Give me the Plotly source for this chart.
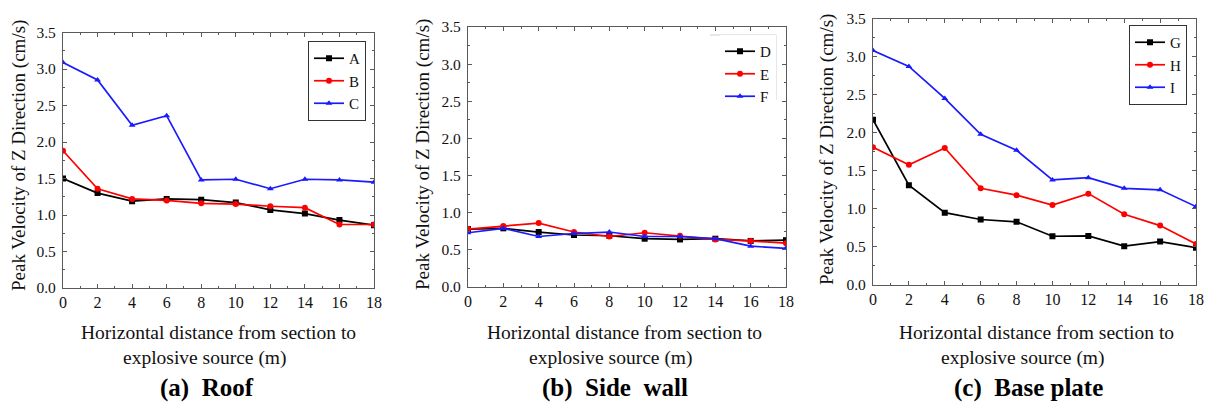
import plotly.graph_objects as go

# ---- data ----
x_dist = [0, 2, 4, 6, 8, 10, 12, 14, 16, 18]

roof_A = [1.50, 1.30, 1.19, 1.22, 1.21, 1.17, 1.07, 1.02, 0.93, 0.86]
roof_B = [1.88, 1.36, 1.22, 1.20, 1.16, 1.15, 1.12, 1.10, 0.87, 0.87]
roof_C = [3.09, 2.85, 2.23, 2.36, 1.48, 1.49, 1.36, 1.49, 1.48, 1.45]

wall_D = [0.78, 0.79, 0.74, 0.70, 0.69, 0.65, 0.64, 0.65, 0.62, 0.63]
wall_E = [0.78, 0.82, 0.86, 0.74, 0.68, 0.73, 0.69, 0.64, 0.62, 0.59]
wall_F = [0.73, 0.79, 0.68, 0.72, 0.74, 0.68, 0.68, 0.65, 0.55, 0.52]

base_G = [2.17, 1.31, 0.95, 0.86, 0.83, 0.64, 0.645, 0.51, 0.57, 0.49]
base_H = [1.81, 1.58, 1.80, 1.27, 1.18, 1.05, 1.20, 0.93, 0.78, 0.54]
base_I = [3.08, 2.87, 2.45, 1.98, 1.77, 1.38, 1.41, 1.27, 1.25, 1.03]

y_tick_vals = [0.0, 0.5, 1.0, 1.5, 2.0, 2.5, 3.0, 3.5]
y_tick_text = ["0.0", "0.5", "1.0", "1.5", "2.0", "2.5", "3.0", "3.5"]
x_tick_vals = [0, 2, 4, 6, 8, 10, 12, 14, 16, 18]

captions = ["(a)  Roof", "(b)  Side  wall", "(c)  Base plate"]
y_title = "Peak Velocity of Z Direction (cm/s)"
x_title_1 = "Horizontal distance from section to"
x_title_2 = "explosive source (m)"

W, H = 1213, 406
FONT = "Liberation Serif"
AX_COL = "#5a5a5a"

# plot area boxes in pixels (left, right, top, bottom)
boxes = [(63, 374, 32.5, 288), (468, 786, 27, 287), (873, 1196, 18.5, 285)]

def px(x):
    return x / W

def py(y):
    return 1 - y / H

series = [
    [("A", roof_A), ("B", roof_B), ("C", roof_C)],
    [("D", wall_D), ("E", wall_E), ("F", wall_F)],
    [("G", base_G), ("H", base_H), ("I", base_I)],
]
colors = ["#000000", "#ff0000", "#1a1aff"]
symbols = ["square", "circle", "triangle-up"]

fig = go.Figure()
for p, group in enumerate(series):
    sfx = "" if p == 0 else str(p + 1)
    for k, (name, vals) in enumerate(group):
        fig.add_trace(go.Scatter(
            x=x_dist, y=vals, name=name, mode="lines+markers",
            line=dict(color=colors[k], width=1.7),
            marker=dict(symbol=symbols[k], size=6, color=colors[k]),
            xaxis="x" + sfx, yaxis="y" + sfx,
            legend="legend" + sfx,
        ))

layout = dict(
    width=W, height=H,
    margin=dict(l=0, r=0, t=0, b=0, autoexpand=False),
    paper_bgcolor="white", plot_bgcolor="white",
    font=dict(family=FONT, color="#111111"),
    annotations=[], shapes=[],
)

# legend positions (right edge x px, top y px)
legend_pos = [(366, 41, True), (776, 35, False), (1187, 25, True)]

for p, (l, r, t, b) in enumerate(boxes):
    sfx = "" if p == 0 else str(p + 1)
    xa = dict(
        domain=[px(l), px(r)], range=[0, 18], anchor="y" + sfx,
        tickvals=x_tick_vals, ticks="inside", ticklen=4, tickcolor=AX_COL,
        showline=True, linecolor=AX_COL, linewidth=1.2, mirror="ticks",
        showgrid=False, zeroline=False,
        tickfont=dict(family=FONT, size=16, color="#111111"),
        ticklabelstandoff=0,
        minor=dict(dtick=1, ticks="inside", ticklen=2, tickcolor=AX_COL, showgrid=False),
    )
    ya = dict(
        domain=[py(b), py(t)], range=[0, 3.5], anchor="x" + sfx,
        tickvals=y_tick_vals, ticktext=y_tick_text, ticks="inside", ticklen=4,
        tickcolor=AX_COL,
        showline=True, linecolor=AX_COL, linewidth=1.2, mirror="ticks",
        showgrid=False, zeroline=False,
        tickfont=dict(family=FONT, size=15.5, color="#111111"),
        ticklabelstandoff=3,
        minor=dict(dtick=0.25, ticks="inside", ticklen=2, tickcolor=AX_COL, showgrid=False),
    )
    layout["xaxis" + sfx] = xa
    layout["yaxis" + sfx] = ya

    lx, ly, border = legend_pos[p]
    layout["legend" + sfx] = dict(
        x=px(lx), y=py(ly), xanchor="right", yanchor="top",
        xref="paper", yref="paper",
        bgcolor="rgba(255,255,255,1)",
        bordercolor="#333333" if border else "rgba(0,0,0,0)",
        borderwidth=1 if border else 0,
        font=dict(family=FONT, size=15, color="#111111"),
        tracegroupgap=0, itemwidth=30, entrywidth=54,
    )

# partial light border of the side-wall legend
layout["shapes"].append(dict(type="line", xref="paper", yref="paper",
                             x0=px(710), x1=px(776), y0=py(35), y1=py(35),
                             line=dict(color="#cfcfcf", width=1)))
layout["shapes"].append(dict(type="line", xref="paper", yref="paper",
                             x0=px(776), x1=px(776), y0=py(35), y1=py(100),
                             line=dict(color="#cfcfcf", width=1)))

# text annotations
ytitle_x = [19, 423, 827]
ytitle_y = [156, 155, 150]
line1_cx = [218, 624, 1036]
line2_cx = [205, 611, 1023]
cap_cx = [207, 615, 1028]
for p in range(3):
    layout["annotations"].append(dict(
        text=y_title, textangle=-90, xref="paper", yref="paper",
        x=px(ytitle_x[p]), y=py(ytitle_y[p]), xanchor="center", yanchor="middle",
        showarrow=False, font=dict(family=FONT, size=19, color="#111111")))
    layout["annotations"].append(dict(
        text=x_title_1, xref="paper", yref="paper",
        x=px(line1_cx[p]), y=py(332), xanchor="center", yanchor="middle",
        showarrow=False, font=dict(family=FONT, size=19.5, color="#111111")))
    layout["annotations"].append(dict(
        text=x_title_2, xref="paper", yref="paper",
        x=px(line2_cx[p]), y=py(358), xanchor="center", yanchor="middle",
        showarrow=False, font=dict(family=FONT, size=19.5, color="#111111")))
    layout["annotations"].append(dict(
        text="<b>" + captions[p] + "</b>", xref="paper", yref="paper",
        x=px(cap_cx[p]), y=py(388), xanchor="center", yanchor="middle",
        showarrow=False, font=dict(family=FONT, size=25, color="#000000")))

fig.update_layout(**layout)
fig.write_html("out.html",
               config={"displayModeBar": False},
               post_script="document.body.style.margin='0';document.body.style.overflow='hidden';")
